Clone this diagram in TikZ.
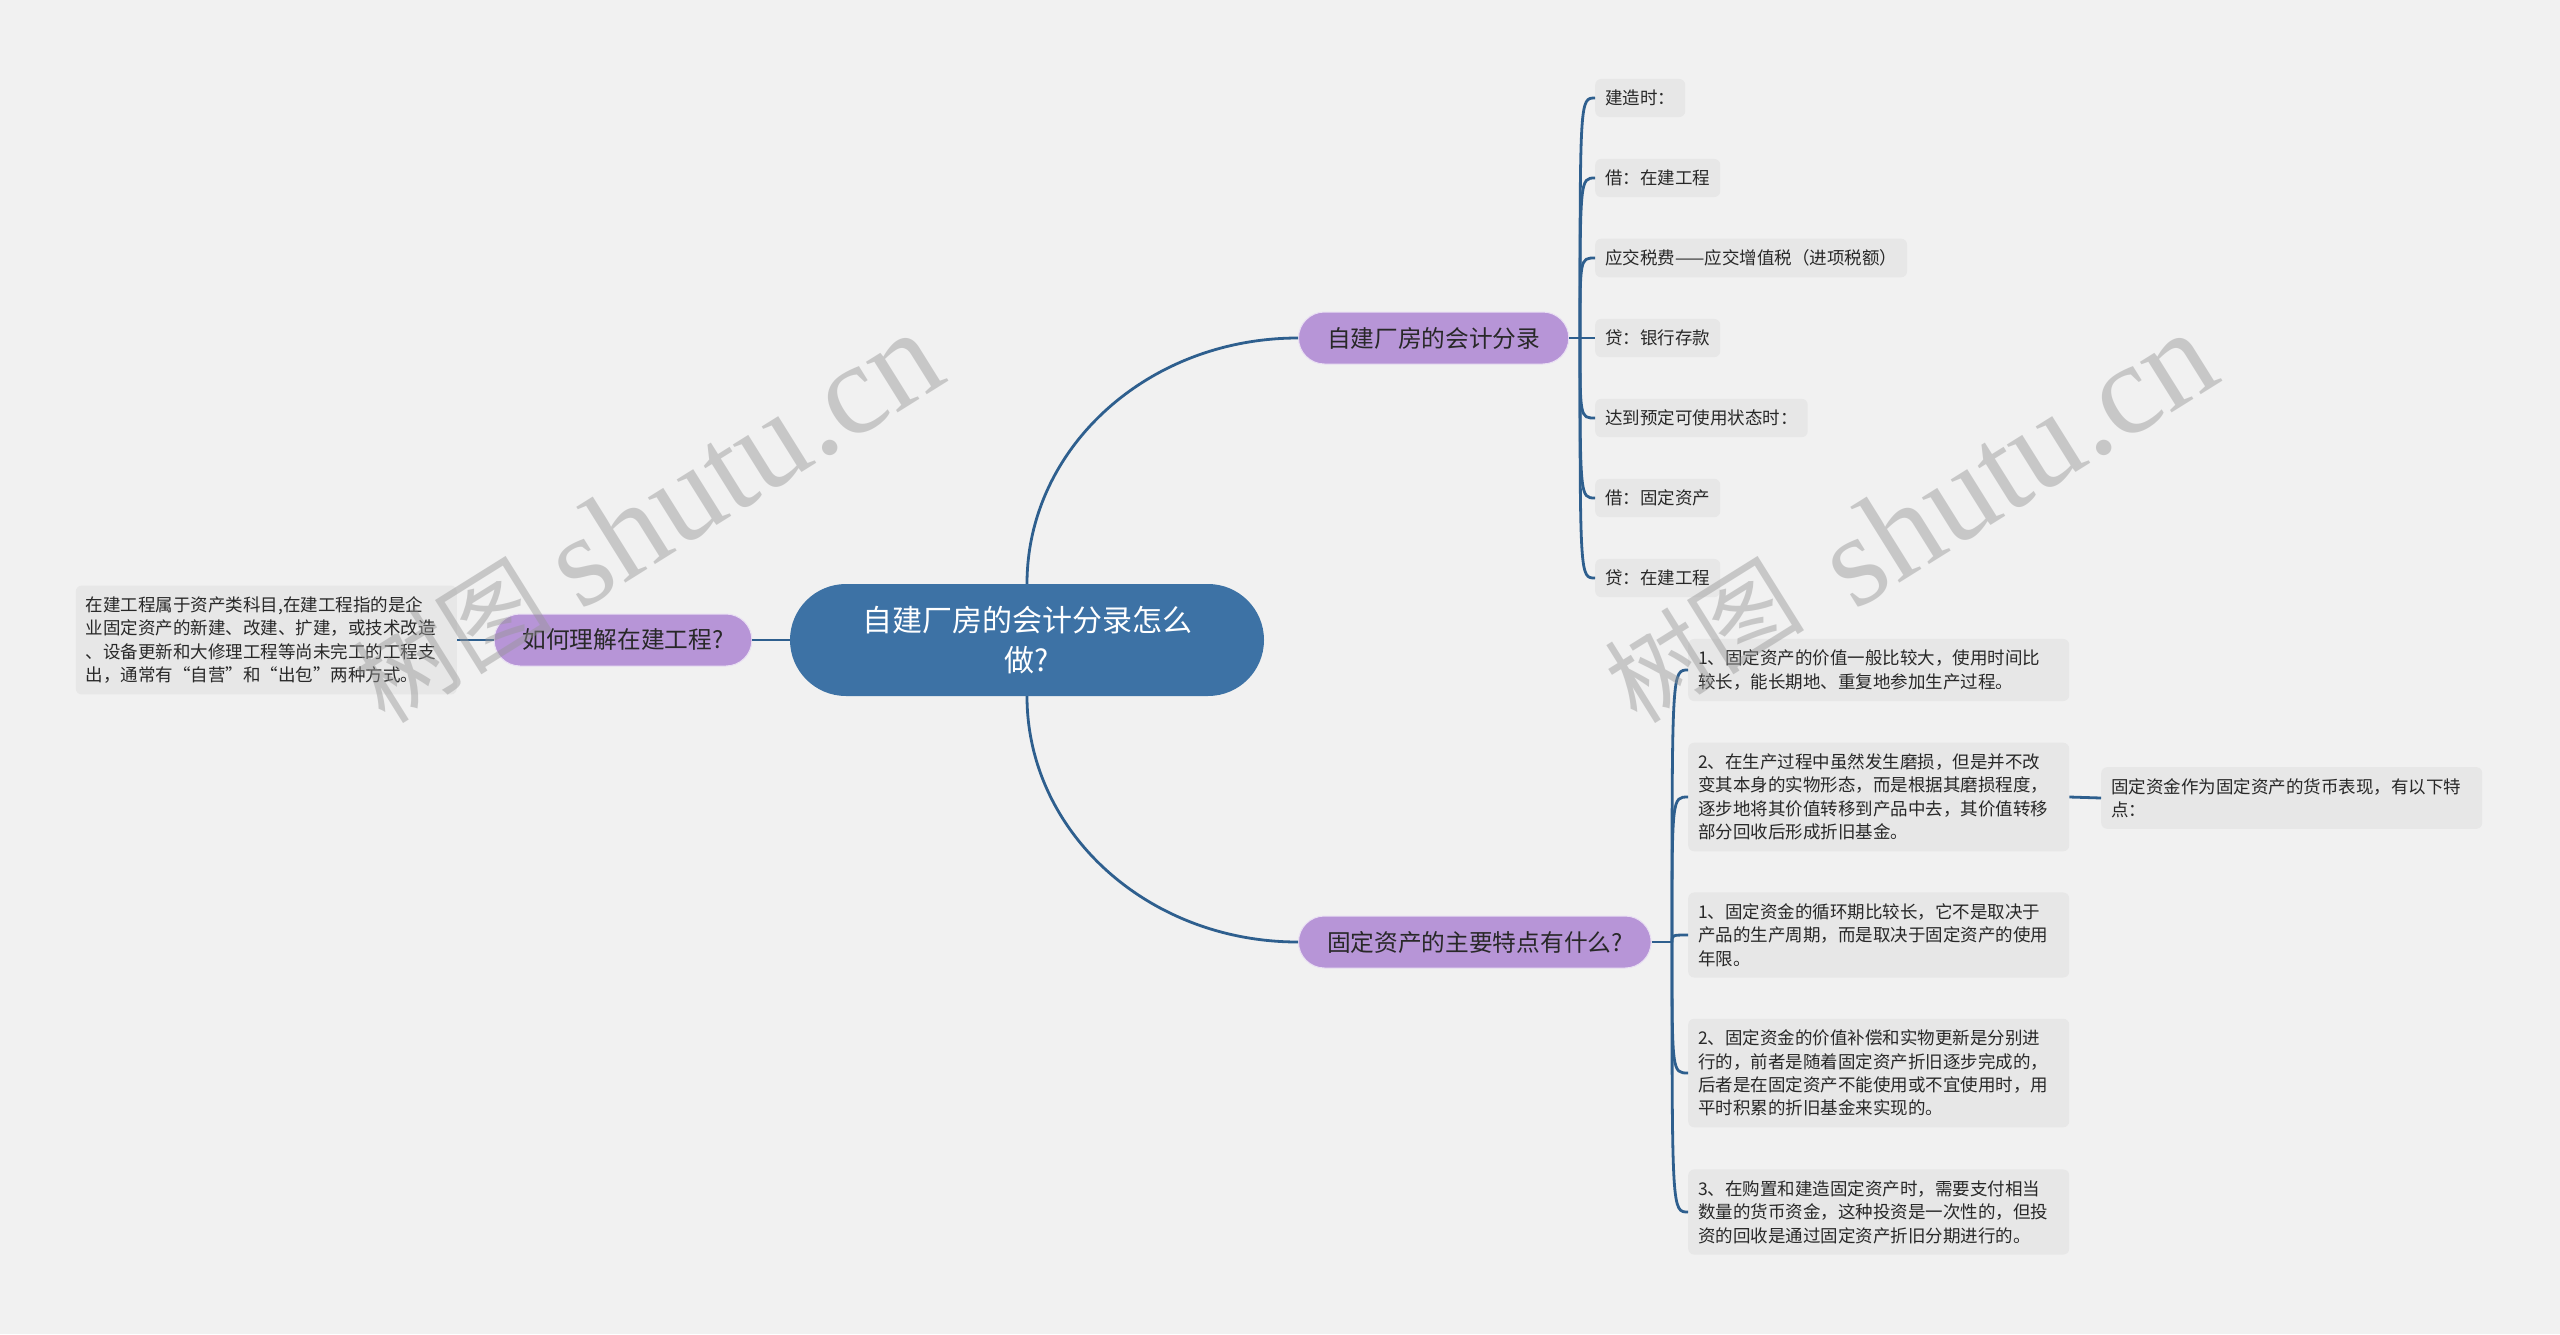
\documentclass[tikz,border=0pt]{standalone}
\usepackage{fontspec}
\setmainfont{Noto Sans CJK SC}
\newfontfamily\wmserif{Liberation Serif}
\newfontfamily\wmcjk{Noto Sans CJK SC}
\definecolor{bgcol}{RGB}{241,241,241}
\definecolor{leafcol}{RGB}{231,231,231}
\definecolor{linecol}{RGB}{46,95,142}
\definecolor{rootcol}{RGB}{61,114,165}
\definecolor{purp}{RGB}{183,149,215}
\definecolor{textcol}{RGB}{40,40,40}
\definecolor{wmcol}{RGB}{150,150,150}
\tikzset{
  conn/.style={draw=linecol, line width=2.8pt},
  leaf/.style={fill=leafcol, rounded corners=6pt, inner xsep=10pt, inner ysep=11pt,
    font=\fontsize{17.5}{23.4}\selectfont, text=textcol, anchor=west},
  leafw/.style={leaf, text width=361pt, align=left},
  branch/.style={fill=purp, draw=white!70!purp, line width=1pt, rounded corners=26pt, inner xsep=28.5pt, inner ysep=0pt,
    minimum height=52pt, font=\fontsize{23.7}{28}\selectfont, text=textcol},
  rootn/.style={fill=rootcol, rounded corners=56pt, minimum width=474pt, minimum height=112pt,
    text=white, align=center, font=\fontsize{30}{40}\selectfont},
  wmc/.style={text=wmcol, opacity=0.45, rotate=32, inner sep=0pt, font=\wmcjk\fontsize{100}{100}\selectfont},
  wml/.style={text=wmcol, opacity=0.45, rotate=32, inner sep=0pt, font=\wmserif\fontsize{130}{130}\selectfont}
}
\begin{document}
\begin{tikzpicture}[x=1pt,y=-1pt]
\useasboundingbox (0,0) rectangle (2560,1334);
\fill[bgcol] (0,0) rectangle (2560,1334);

% root and branches
\node[rootn] (root) at (1027,640) {自建厂房的会计分录怎么\\做?};
\node[branch] (lb) at (623,640) {如何理解在建工程?};
\node[branch, anchor=west] (tb) at (1298,338) {自建厂房的会计分录};
\node[branch, anchor=west] (bb) at (1298,942) {固定资产的主要特点有什么?};

% left leaf
\node[leafw, anchor=east] (lt) at (457,640) {在建工程属于资产类科目,在建工程指的是企\\业固定资产的新建、改建、扩建，或技术改造\\、设备更新和大修理工程等尚未完工的工程支\\出，通常有“自营”和“出包”两种方式。};

% top leaves
\node[leaf] (t1) at (1595,98) {建造时：};
\node[leaf] (t2) at (1595,178) {借：在建工程};
\node[leaf] (t3) at (1595,258) {应交税费——应交增值税（进项税额）};
\node[leaf] (t4) at (1595,338) {贷：银行存款};
\node[leaf] (t5) at (1595,418) {达到预定可使用状态时：};
\node[leaf] (t6) at (1595,498) {借：固定资产};
\node[leaf] (t7) at (1595,578) {贷：在建工程};

% bottom leaves
\node[leafw] (b1) at (1688,670) {1、固定资产的价值一般比较大，使用时间比\\较长，能长期地、重复地参加生产过程。};
\node[leafw] (b2) at (1688,797) {2、在生产过程中虽然发生磨损，但是并不改\\变其本身的实物形态，而是根据其磨损程度，\\逐步地将其价值转移到产品中去，其价值转移\\部分回收后形成折旧基金。};
\node[leafw] (b3) at (1688,935) {1、固定资金的循环期比较长，它不是取决于\\产品的生产周期，而是取决于固定资产的使用\\年限。};
\node[leafw] (b4) at (1688,1073) {2、固定资金的价值补偿和实物更新是分别进\\行的，前者是随着固定资产折旧逐步完成的，\\后者是在固定资产不能使用或不宜使用时，用\\平时积累的折旧基金来实现的。};
\node[leafw] (b5) at (1688,1212) {3、在购置和建造固定资产时，需要支付相当\\数量的货币资金，这种投资是一次性的，但投\\资的回收是通过固定资产折旧分期进行的。};
\node[leafw] (g1) at (2101,798) {固定资金作为固定资产的货币表现，有以下特\\点：};

% connectors
\draw[conn] (root.north) .. controls +(0,-136) and +(-150,0) .. (tb.west);
\draw[conn] (root.south) .. controls +(0,136) and +(-150,0) .. (bb.west);
\draw[conn] (root.west) -- (lb.east);
\draw[conn] (lb.west) -- (lt.east);

\coordinate (tj) at (1580,338);
\draw[conn] (tb.east) -- (tj);
\foreach \n in {t1,t2,t3,t4,t5,t6,t7}
  \draw[conn] (tj) .. controls (tj |- \n.west) .. (\n.west);

\coordinate (bj) at (1672,942);
\draw[conn] (bb.east) -- (bj);
\foreach \n in {b1,b2,b3,b4,b5}
  \draw[conn] (bj) .. controls (bj |- \n.west) .. (\n.west);

\draw[conn] (b2.east) -- (g1.west);

% watermarks
\node[wmc] (wm1a) at (450,640) {树图};
\node[wml] (wm1b) at (742,458) {shutu.cn};
\node[wmc] (wm2a) at (1702,640) {树图};
\node[wml] (wm2b) at (2016,458) {shutu.cn};
\end{tikzpicture}
\end{document}
